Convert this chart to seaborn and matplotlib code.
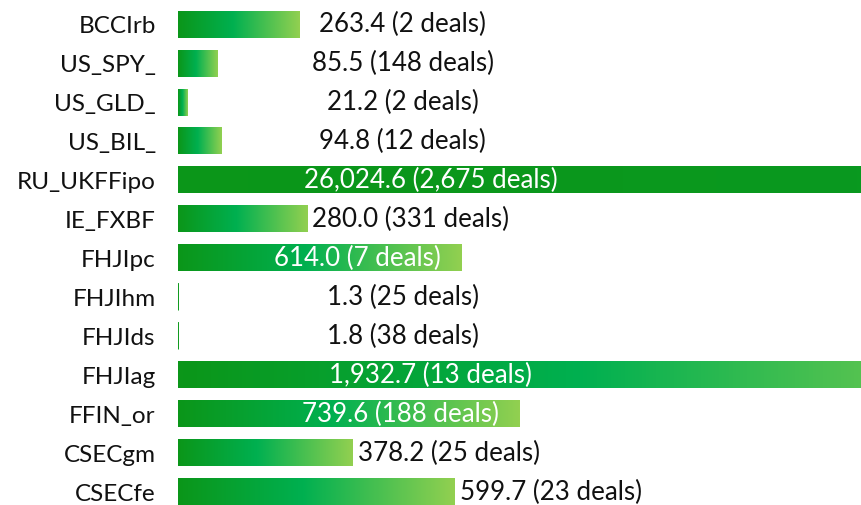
import numpy as np
import pandas as pd
import matplotlib
matplotlib.use("Agg")
import matplotlib.pyplot as plt
from matplotlib.colors import LinearSegmentedColormap
import seaborn as sns

# Chart data
tickers = ["BCCIrb", "US_SPY_", "US_GLD_", "US_BIL_", "RU_UKFFipo", "IE_FXBF",
           "FHJIpc", "FHJIhm", "FHJIds", "FHJIag", "FFIN_or", "CSECgm", "CSECfe"]
volumes = [263.4, 85.5, 21.2, 94.8, 26024.6, 280.0,
           614.0, 1.3, 1.8, 1932.7, 739.6, 378.2, 599.7]
deals = [2, 148, 2, 12, 2675, 331, 7, 25, 38, 13, 188, 25, 23]

df = pd.DataFrame({"ticker": tickers, "volume": volumes, "deals": deals})

x_max = 1479          # axis cut-off, bigger bars get clipped
inside_min = 605      # labels go inside the bar above this value
label_size = 18.6

sns.set_theme(style="white")
plt.rcParams["font.family"] = ["Lato", "DejaVu Sans"]

fig = plt.figure(figsize=(8.61, 5.05), dpi=100)
ax = fig.add_axes([0.2067, -0.013, 0.7933, 1.0035])

sns.barplot(data=df, x="volume", y="ticker", orient="h", width=0.68,
            color="#00b050", ax=ax)

# gradient fill for each bar
cmap = LinearSegmentedColormap.from_list(
    "greens", [(0, "#0b9619"), (0.45, "#00b050"), (1, "#92d050")])
grad = np.linspace(0, 1, 256).reshape(1, -1)
for patch, val in zip(ax.patches, df["volume"]):
    y0 = patch.get_y()
    h = patch.get_height()
    patch.set_facecolor("none")
    patch.set_edgecolor("none")
    ax.imshow(grad, cmap=cmap, aspect="auto", interpolation="bilinear",
              extent=[0, val, y0 + h, y0], zorder=2)
    if val < 5:
        ax.plot([0.6, 0.6], [y0, y0 + h], color="#0b9619", lw=1.2, zorder=2)

ax.set_xlim(0, x_max)
ax.set_ylim(len(df) - 0.5, -0.5)

# value labels
fig.canvas.draw()
renderer = fig.canvas.get_renderer()
inv = ax.transData.inverted()
for i, row in df.iterrows():
    label = f"{row.volume:,.1f} ({row.deals:,} deals)"
    if row.volume > inside_min:
        if row.volume > x_max:
            ax.text(x_max * 0.37, i, label, ha="center", va="center",
                    color="white", fontsize=label_size, zorder=3)
        else:
            ax.text(row.volume - 45, i, label, ha="right", va="center",
                    color="white", fontsize=label_size, zorder=3)
    else:
        t = ax.text(row.volume + 11, i, label, ha="left", va="center",
                    color="#111111", fontsize=label_size, zorder=3)
        bb = t.get_window_extent(renderer)
        x0 = inv.transform((bb.x0, bb.y0))[0]
        x1 = inv.transform((bb.x1, bb.y0))[0]
        if (x0 + x1) / 2 < 487:
            t.set_position((487, i))
            t.set_ha("center")

ax.set_xlabel("")
ax.set_ylabel("")
ax.set_xticks([])
ax.tick_params(axis="y", length=0, pad=16, labelsize=17.5, labelcolor="#111111")
sns.despine(ax=ax, left=True, bottom=True)

fig.savefig("out.png", dpi=100)
